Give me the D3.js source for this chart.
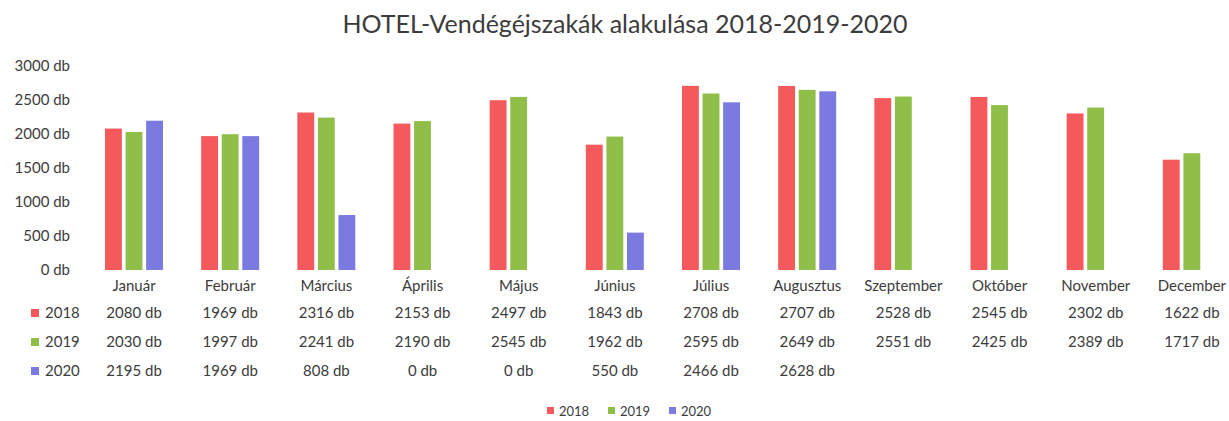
<!DOCTYPE html>
<html>
<head>
<meta charset="utf-8">
<script src="https://cdn.jsdelivr.net/npm/d3@7/dist/d3.min.js"></script>
<style>
  body { margin: 0; background: #fff; }
  svg { display: block; font-family: Lato, "Open Sans", sans-serif; }
  text { fill: #3c3c3c; }
</style>
</head>
<body>
<div id="chart"></div>
<script>
// data
const months = ["Január", "Február", "Március", "Április", "Május", "Június",
  "Július", "Augusztus", "Szeptember", "Október", "November", "December"];
const years = ["2018", "2019", "2020"];
const v2018 = [2080, 1969, 2316, 2153, 2497, 1843, 2708, 2707, 2528, 2545, 2302, 1622];
const v2019 = [2030, 1997, 2241, 2190, 2545, 1962, 2595, 2649, 2551, 2425, 2389, 1717];
const v2020 = [2195, 1969, 808, 0, 0, 550, 2466, 2628, null, null, null, null];
const yTicks = [0, 500, 1000, 1500, 2000, 2500, 3000];
const colors = ["#f45a5c", "#8fbf48", "#7a7ae0"];

const series = [v2018, v2019, v2020];

const width = 1229;
const height = 421;

const svg = d3.select("#chart").append("svg")
  .attr("width", width)
  .attr("height", height);

// title
svg.append("text")
  .attr("x", 625)
  .attr("y", 33)
  .attr("text-anchor", "middle")
  .attr("font-size", "25px")
  .text("HOTEL-Vendégéjszakák alakulása 2018-2019-2020");

const x = d3.scaleBand().domain(months).range([86, 1240]);
const xSub = d3.scaleBand().domain(years).range([19, 77]).paddingInner(0.18);
const y = d3.scaleLinear().domain([0, 3000]).range([270, 66]);

// y axis, no line and no ticks
const yAxis = svg.append("g")
  .attr("transform", "translate(72,0)")
  .call(d3.axisLeft(y).tickValues(yTicks).tickSize(0).tickPadding(2)
    .tickFormat((d) => d + " db"));
yAxis.select(".domain").remove();
yAxis.selectAll("text")
  .attr("font-size", "15px")
  .style("font-family", "Lato, sans-serif")
  .attr("fill", "#3c3c3c");

// bars
const groups = svg.selectAll(".month")
  .data(months)
  .enter()
  .append("g")
  .attr("class", "month")
  .attr("transform", (d) => `translate(${x(d)},0)`);

groups.selectAll("rect")
  .data((m, i) => years.map((yr, k) => ({ yr, k, v: series[k][i] })))
  .enter()
  .append("rect")
  .filter((d) => d.v !== null)
  .attr("x", (d) => xSub(d.yr))
  .attr("width", xSub.bandwidth())
  .attr("y", (d) => y(d.v))
  .attr("height", (d) => y(0) - y(d.v))
  .attr("fill", (d) => colors[d.k]);

// category labels
svg.selectAll(".cat")
  .data(months)
  .enter()
  .append("text")
  .attr("class", "cat")
  .attr("x", (d) => x(d) + x.bandwidth() / 2)
  .attr("y", 291)
  .attr("text-anchor", "middle")
  .attr("font-size", "15px")
  .text((d) => d);

// data table
const rowY = [318, 347, 376];
years.forEach((yr, k) => {
  svg.append("rect")
    .attr("x", 31)
    .attr("y", rowY[k] - 9)
    .attr("width", 8)
    .attr("height", 8)
    .attr("fill", colors[k]);
  svg.append("text")
    .attr("x", 45)
    .attr("y", rowY[k])
    .attr("font-size", "15px")
    .text(yr);
  svg.selectAll(".val" + yr)
    .data(months.map((m, i) => ({ m, v: series[k][i] })).filter((d) => d.v !== null))
    .enter()
    .append("text")
    .attr("x", (d) => x(d.m) + x.bandwidth() / 2)
    .attr("y", rowY[k])
    .attr("text-anchor", "middle")
    .attr("font-size", "15px")
    .text((d) => d.v + " db");
});

// legend
const legend = svg.append("g").attr("transform", "translate(547,416)");
years.forEach((yr, k) => {
  const g = legend.append("g").attr("transform", `translate(${k * 61},0)`);
  g.append("rect")
    .attr("x", 0)
    .attr("y", -9)
    .attr("width", 7)
    .attr("height", 7)
    .attr("fill", colors[k]);
  g.append("text")
    .attr("x", 12)
    .attr("y", 0)
    .attr("font-size", "13px")
    .text(yr);
});
</script>
</body>
</html>
